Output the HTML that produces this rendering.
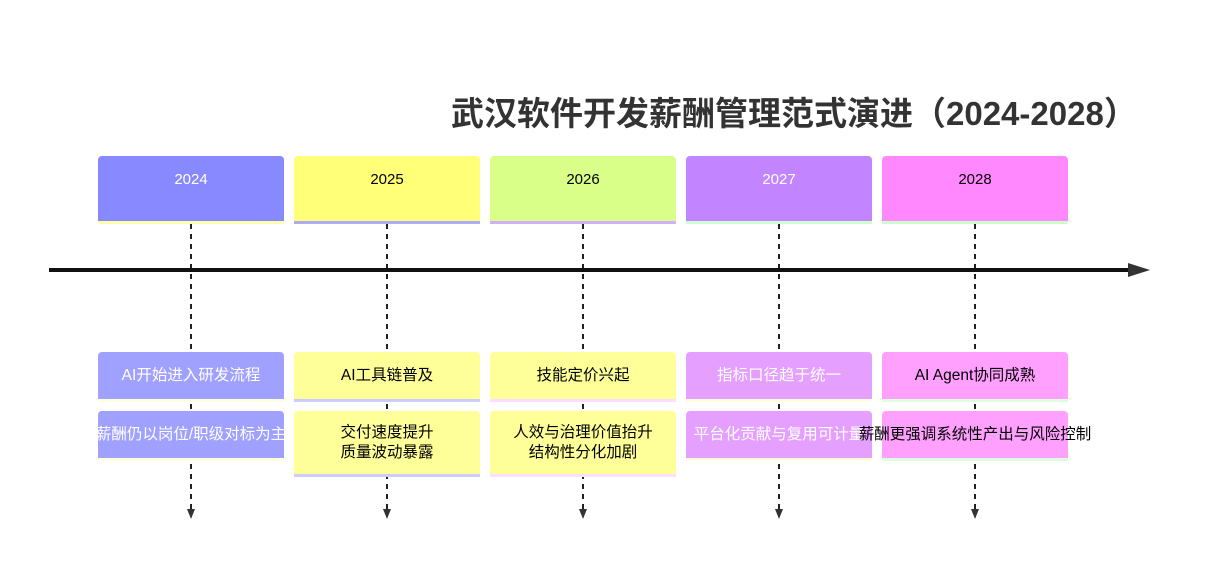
<!DOCTYPE html>
<html><head><meta charset="utf-8"><style>
body{margin:0;width:1230px;height:581px;background:#fff;position:relative;overflow:hidden;font-family:"Liberation Sans","Noto Sans CJK SC",sans-serif}
.b{position:absolute;width:186px;border-radius:4px 4px 0 0;text-align:center;font-size:15.5px;box-sizing:border-box;display:flex;align-items:center;justify-content:center;white-space:nowrap;line-height:20px}
.y{top:156px;height:68px;align-items:flex-start;padding-top:14px;font-size:15px}
.w{color:#fff}
svg{position:absolute;left:0;top:0}
</style></head><body>
<svg width="1230" height="581">
<g stroke="#222" stroke-width="2" stroke-dasharray="5,5">
<line x1="191" y1="224" x2="191" y2="510"/><line x1="387" y1="224" x2="387" y2="510"/><line x1="583" y1="224" x2="583" y2="510"/><line x1="779" y1="224" x2="779" y2="510"/><line x1="975" y1="224" x2="975" y2="510"/>
</g>
<g fill="#333">
<polygon points="187,509 195,509 191,519"/><polygon points="383,509 391,509 387,519"/><polygon points="579,509 587,509 583,519"/><polygon points="775,509 783,509 779,519"/><polygon points="971,509 979,509 975,519"/>
</g>
<line x1="49" y1="270" x2="1132" y2="270" stroke="#111" stroke-width="4"/>
<polygon points="1128,263 1150,270 1128,277" fill="#333"/>
</svg>
<div style="position:absolute;left:451px;top:94px;font-size:33px;font-weight:bold;color:#333;white-space:nowrap;line-height:40px">武汉软件开发薪酬管理范式演进（2024-2028）</div>

<div class="b y w" style="left:98px;background:#8888ff;border-bottom:3px solid #ffffaa">2024</div>
<div class="b y" style="left:294px;background:#ffff78;border-bottom:3px solid #aaaaff">2025</div>
<div class="b y" style="left:490px;background:#d9ff88;border-bottom:3px solid #d0b0ff">2026</div>
<div class="b y w" style="left:686px;background:#c384ff;border-bottom:3px solid #ccffcc">2027</div>
<div class="b y" style="left:882px;background:#ff88ff;border-bottom:3px solid #ccffcc">2028</div>

<div class="b w" style="left:98px;top:352px;height:50px;background:#a0a0ff;border-bottom:3px solid #ffffdd">AI开始进入研发流程</div>
<div class="b w" style="left:98px;top:411px;height:50px;background:#a0a0ff;border-bottom:3px solid #ffffdd;overflow:hidden"><span>薪酬仍以岗位/职级对标为主</span></div>
<div class="b" style="left:294px;top:352px;height:50px;background:#ffff99;border-bottom:3px solid #ccccff">AI工具链普及</div>
<div class="b" style="left:294px;top:411px;height:66px;background:#ffff99;border-bottom:3px solid #ccccff">交付速度提升<br>质量波动暴露</div>
<div class="b" style="left:490px;top:352px;height:50px;background:#ffff99;border-bottom:3px solid #ffddff">技能定价兴起</div>
<div class="b" style="left:490px;top:411px;height:66px;background:#ffff99;border-bottom:3px solid #ffddff">人效与治理价值抬升<br>结构性分化加剧</div>
<div class="b w" style="left:686px;top:352px;height:50px;background:#e5a0ff;border-bottom:3px solid #ffffdd">指标口径趋于统一</div>
<div class="b w" style="left:686px;top:411px;height:50px;background:#e5a0ff;border-bottom:3px solid #ffffdd;overflow:hidden">平台化贡献与复用可计量</div>
<div class="b" style="left:882px;top:352px;height:50px;background:#ffa0ff;border-bottom:3px solid #ddffdd">AI Agent协同成熟</div>
<div class="b" style="left:882px;top:411px;height:50px;background:#ffa0ff;border-bottom:3px solid #ddffdd">薪酬更强调系统性产出与风险控制</div>
</body></html>
